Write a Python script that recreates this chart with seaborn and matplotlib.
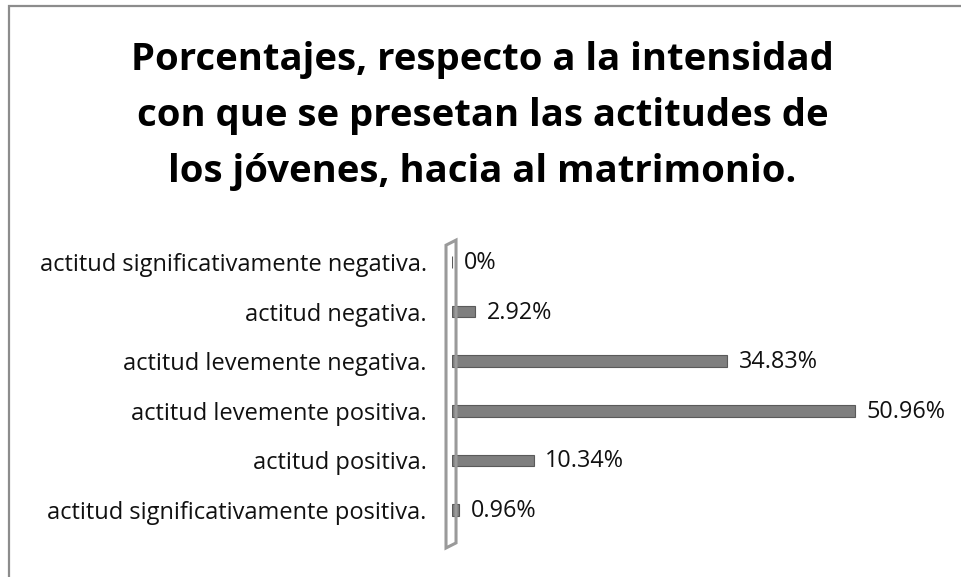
import pandas as pd
import matplotlib.pyplot as plt
import seaborn as sns
from matplotlib.patches import Polygon

categorias = ["actitud significativamente negativa.",
              "actitud negativa.",
              "actitud levemente negativa.",
              "actitud levemente positiva.",
              "actitud positiva.",
              "actitud significativamente positiva."]
porcentajes = [0, 2.92, 34.83, 50.96, 10.34, 0.96]
etiquetas = ["0%", "2.92%", "34.83%", "50.96%", "10.34%", "0.96%"]

titulo = ("Porcentajes, respecto a la intensidad\n"
          "con que se presetan las actitudes de\n"
          "los jóvenes, hacia al matrimonio.")

sns.set_style("white")
plt.rcParams['font.family'] = ['Open Sans', 'DejaVu Sans']

df = pd.DataFrame({"cat": categorias, "pct": porcentajes})

fig = plt.figure(figsize=(9.61, 5.77), dpi=100)
ax = fig.add_axes([0.470, 0.073, 0.453, 0.516])

sns.barplot(data=df, x="pct", y="cat", orient="h", width=0.23,
            color="#7f7f7f", edgecolor="#5a5a5a", linewidth=0.8, ax=ax)

ax.set_xlim(0, 55)
ax.set_xlabel("")
ax.set_ylabel("")
ax.set_xticks([])
ax.tick_params(axis="y", length=0, pad=18, labelsize=17, labelcolor="#111111")
for s in ax.spines.values():
    s.set_visible(False)

# pared 3D del eje vertical
pared = Polygon([(-0.013, 0.973), (-0.013, -0.044), (0.010, -0.027), (0.010, 0.990)],
                closed=True, transform=ax.transAxes, fill=False,
                edgecolor="#9a9a9a", linewidth=2.2, clip_on=False)
ax.add_patch(pared)

for i, (v, t) in enumerate(zip(porcentajes, etiquetas)):
    ax.text(v + 1.5, i + 0.02, t, va="center", ha="left", fontsize=16.8, color="#111111")

fig.text(0.502, 0.669, titulo, ha="center", va="bottom", fontsize=27.5,
         fontweight="bold", linespacing=1.62, color="#000000")

# marco del gráfico
borde = plt.Rectangle((0.0095, -0.05), 1.2, 1.04, transform=fig.transFigure,
                      fill=False, edgecolor="#8c8c8c", linewidth=1.6)
fig.add_artist(borde)

fig.savefig("out.png", dpi=100)
